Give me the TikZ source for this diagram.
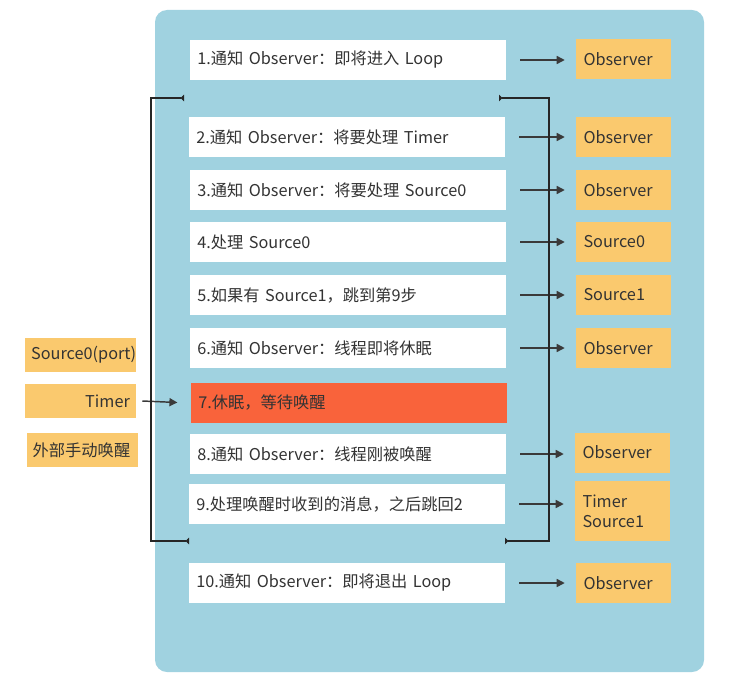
\documentclass[tikz,border=0pt]{standalone}
\usepackage{fontspec}
\setmainfont{Noto Sans CJK SC}
\usetikzlibrary{arrows.meta}
\definecolor{panel}{HTML}{A0D2E0}
\definecolor{obox}{HTML}{FAC96E}
\definecolor{rbox}{HTML}{F9633B}
\definecolor{ink}{HTML}{333333}
\definecolor{lineink}{HTML}{3A3A3A}
\begin{document}
\begin{tikzpicture}[x=0.75pt,y=-0.75pt,
  font=\fontsize{12.2}{15}\selectfont, text=ink,
  panelbox/.style={fill=panel, rounded corners=9pt, minimum width=411.75pt, minimum height=496.5pt, inner sep=0pt},
  wbox/.style={fill=white, minimum width=237pt, minimum height=30pt, inner xsep=5.5pt, inner ysep=0pt, text width=226pt, align=left},
  rstep/.style={wbox, fill=rbox},
  obx/.style={fill=obox, minimum width=71.25pt, minimum height=30pt, inner xsep=5.5pt, inner ysep=0pt, text width=60pt, align=left},
  lbx/.style={fill=obox, minimum width=83.25pt, minimum height=25.5pt, inner xsep=4.5pt, inner ysep=0pt, text width=74pt},
  arr/.style={draw=lineink, line width=1.1pt, -{Triangle[length=6pt,width=6pt]}},
  backline/.style={draw=black!85, line width=1.1pt, {Triangle[reversed,length=2.5pt,width=5pt]}-{Triangle[reversed,length=2.5pt,width=5pt]}}
]
\useasboundingbox (0,0) rectangle (738,681);
\node[panelbox] (panel) at (429.5,341) {};

% steps
\node[wbox] (w1) at (348,60) {1.通知 Observer：即将进入 Loop};
\node[wbox] (w2) at (347,137) {2.通知 Observer：将要处理 Timer};
\node[wbox] (w3) at (348,190) {3.通知 Observer：将要处理 Source0};
\node[wbox] (w4) at (348,242) {4.处理 Source0};
\node[wbox] (w5) at (348,295) {5.如果有 Source1，跳到第9步};
\node[wbox] (w6) at (348,348) {6.通知 Observer：线程即将休眠};
\node[rstep] (w7) at (349,402.5) {7.休眠，等待唤醒};
\node[wbox] (w8) at (348,454) {8.通知 Observer：线程刚被唤醒};
\node[wbox] (w9) at (347,504) {9.处理唤醒时收到的消息，之后跳回2};
\node[wbox] (w10) at (347,583) {10.通知 Observer：即将退出 Loop};

% right boxes
\node[obx] (o1) at (623.5,59) {Observer};
\node[obx] (o2) at (623.5,137) {Observer};
\node[obx] (o3) at (623.5,190) {Observer};
\node[obx] (o4) at (623.5,242) {Source0};
\node[obx] (o5) at (623.5,295) {Source1};
\node[obx] (o6) at (623.5,348) {Observer};
\node[obx] (o8) at (622.5,452.5) {Observer};
\node[obx, minimum height=45pt] (o9) at (622.5,511) {Timer\\Source1};
\node[obx] (o10) at (623.5,583) {Observer};

% left boxes
\node[lbx, align=center] (s0) at (80.5,355) {Source0(port)};
\node[lbx, align=right] (tm) at (80.5,401) {Timer};
\node[lbx, align=left] (ext) at (82,450) {外部手动唤醒};

% arrows to observers
\foreach \i in {1,2,3,4,5,6,8,9,10}{
  \draw[arr] ([xshift=10.5pt]w\i.east) -- ([xshift=-8.25pt]w\i.east -| o\i.west);
}
\draw[arr] ([xshift=4.5pt]tm.east) -- ([xshift=-10pt]w7.west);

% loop back lines
\coordinate (lt) at (184,98);
\coordinate (lb) at (189,541);
\coordinate (rt) at (499,98);
\coordinate (rb) at (505,541);
\coordinate (lx) at (151,0);
\coordinate (rx) at (549,0);
\draw[backline] (lb) -- (lb -| lx) -- (lt -| lx) -- (lt);
\draw[backline] (rb) -- (rb -| rx) -- (rt -| rx) -- (rt);
\end{tikzpicture}
\end{document}
